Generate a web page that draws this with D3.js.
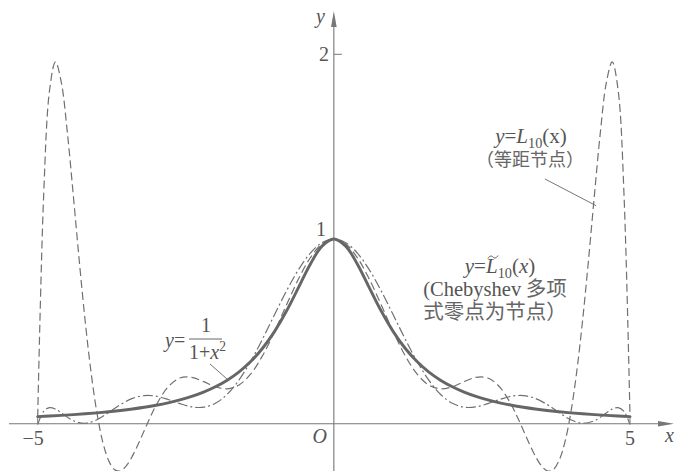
<!DOCTYPE html>
<html>
<head>
<meta charset="utf-8">
<script src="https://cdn.jsdelivr.net/npm/d3@7/dist/d3.min.js"></script>
<style>
  html, body { margin: 0; padding: 0; background: #fff; }
  svg { display: block; }
  text { fill: #4a4a4a; }
</style>
</head>
<body>
<svg id="chart" width="675" height="471"></svg>
<script>
// Runge function y = 1/(1+x^2) on [-5, 5]
const xRunge = [-5,-4.8,-4.6,-4.4,-4.2,-4,-3.8,-3.6,-3.4,-3.2,-3,-2.8,-2.6,-2.4,-2.2,-2,-1.8,-1.6,-1.4,-1.2,-1,-0.8,-0.6,-0.4,-0.2,
  0,0.2,0.4,0.6,0.8,1,1.2,1.4,1.6,1.8,2,2.2,2.4,2.6,2.8,3,3.2,3.4,3.6,3.8,4,4.2,4.4,4.6,4.8,5];
const yRunge = [0.0385,0.0416,0.0451,0.0491,0.0536,0.0588,0.0648,0.0716,0.0796,0.0890,0.1000,0.1131,0.1289,0.1479,0.1712,0.2000,0.2358,0.2809,0.3378,0.4098,0.5000,0.6098,0.7353,0.8621,0.9615,
  1.0000,0.9615,0.8621,0.7353,0.6098,0.5000,0.4098,0.3378,0.2809,0.2358,0.2000,0.1712,0.1479,0.1289,0.1131,0.1000,0.0890,0.0796,0.0716,0.0648,0.0588,0.0536,0.0491,0.0451,0.0416,0.0385];

// L10(x): interpolation on 11 equally spaced nodes
const xEqui = [-5,-4.9,-4.8,-4.7,-4.6,-4.5,-4.4,-4.3,-4.2,-4.1,-4,-3.9,-3.8,-3.7,-3.6,-3.5,-3.4,-3.3,-3.2,-3.1,-3,
  -2.8,-2.6,-2.4,-2.2,-2,-1.8,-1.6,-1.4,-1.2,-1,-0.8,-0.6,-0.4,-0.2,0,0.2,0.4,0.6,0.8,1,1.2,1.4,1.6,1.8,2,2.2,2.4,2.6,2.8,
  3,3.1,3.2,3.3,3.4,3.5,3.6,3.7,3.8,3.9,4,4.1,4.2,4.3,4.4,4.5,4.6,4.7,4.8,4.9,5];
const yEqui = [0.0385,1.2303,1.8044,1.9590,1.8458,1.5787,1.2402,0.8881,0.5604,0.2802,0.0588,-0.1007,-0.2013,-0.2496,-0.2546,-0.2262,-0.1743,-0.1083,-0.0363,0.0349,0.1000,
  0.1987,0.2472,0.2510,0.2278,0.2000,0.1888,0.2099,0.2710,0.3708,0.5000,0.6432,0.7817,0.8971,0.9733,1.0000,0.9733,0.8971,0.7817,0.6432,0.5000,0.3708,0.2710,0.2099,0.1888,0.2000,0.2278,0.2510,0.2472,0.1987,
  0.1000,0.0349,-0.0363,-0.1083,-0.1743,-0.2262,-0.2546,-0.2496,-0.2013,-0.1007,0.0588,0.2802,0.5604,0.8881,1.2402,1.5787,1.8458,1.9590,1.8044,1.2303,0.0385];

// L~10(x): interpolation on the zeros of the Chebyshev polynomial T11
const xCheb = [-5,-4.9,-4.8,-4.7,-4.6,-4.4,-4.2,-4,-3.8,-3.6,-3.4,-3.2,-3,-2.8,-2.6,-2.4,-2.2,-2,-1.8,-1.6,-1.4,-1.2,-1,-0.8,-0.6,-0.4,-0.2,
  0,0.2,0.4,0.6,0.8,1,1.2,1.4,1.6,1.8,2,2.2,2.4,2.6,2.8,3,3.2,3.4,3.6,3.8,4,4.2,4.4,4.6,4.7,4.8,4.9,5];
const yCheb = [-0.0053,0.0664,0.0871,0.0791,0.0583,0.0162,0.0024,0.0213,0.0608,0.1040,0.1371,0.1523,0.1488,0.1313,0.1087,0.0913,0.0893,0.1105,0.1596,0.2372,0.3400,0.4611,0.5910,0.7187,0.8327,0.9226,0.9802,
  1.0000,0.9802,0.9226,0.8327,0.7187,0.5910,0.4611,0.3400,0.2372,0.1596,0.1105,0.0893,0.0913,0.1087,0.1313,0.1488,0.1523,0.1371,0.1040,0.0608,0.0213,0.0024,0.0162,0.0583,0.0791,0.0871,0.0664,-0.0053];

const xTickValues = [-5, 5];
const xTickLabels = ["\u22125", "5"];
const yTickValues = [1, 2];
const yTickLabels = ["1", "2"];

const SERIF = "Liberation Serif";
const CJK = "Noto Sans CJK SC";
const INK = "#555";
const INK_CJK = "#666";

const svg = d3.select("#chart");
const x = d3.scaleLinear().domain([-5, 5]).range([37.7, 630]);
const y = d3.scaleLinear().domain([0, 2]).range([423.7, 54.3]);

// ---- axes ----
const axes = svg.append("g").attr("stroke", "#777").attr("fill", "none");
axes.append("line").attr("x1", 9).attr("x2", 662).attr("y1", y(0)).attr("y2", y(0)).attr("stroke-width", 1.1);
axes.append("line").attr("x1", x(0)).attr("x2", x(0)).attr("y1", 471).attr("y2", 22).attr("stroke-width", 1.1);
svg.append("path").attr("fill", "#777")
  .attr("d", `M${x(0)},11 L${x(0) - 2.8},27 L${x(0) + 2.8},27 Z`);
svg.append("path").attr("fill", "#777")
  .attr("d", `M674,${y(0)} L658,${y(0) - 2.8} L658,${y(0) + 2.8} Z`);

// x ticks (short marks above the axis) and labels
xTickValues.forEach((v, i) => {
  svg.append("line").attr("x1", x(v)).attr("x2", x(v)).attr("y1", y(0)).attr("y2", y(0) - 6)
    .attr("stroke", "#777").attr("stroke-width", 1);
  svg.append("text").attr("x", v < 0 ? x(v) + 6 : x(v)).attr("y", 445)
    .attr("text-anchor", v < 0 ? "end" : "middle")
    .attr("font-family", SERIF).attr("font-size", 20).style("fill", INK)
    .text(xTickLabels[i]);
});
// y ticks: a mark at 2; the label "1" sits beside the axis
yTickValues.forEach((v, i) => {
  if (v === 2) {
    svg.append("line").attr("x1", x(0)).attr("x2", x(0) + 8).attr("y1", y(v)).attr("y2", y(v))
      .attr("stroke", "#777").attr("stroke-width", 1);
  }
  svg.append("text").attr("x", v === 2 ? 329 : 326).attr("y", v === 2 ? y(v) + 7 : y(v) - 3)
    .attr("text-anchor", "end")
    .attr("font-family", SERIF).attr("font-size", 20).style("fill", INK)
    .text(yTickLabels[i]);
});
svg.append("text").attr("x", 327).attr("y", 443).attr("text-anchor", "end")
  .attr("font-family", SERIF).attr("font-style", "italic").attr("font-size", 20).style("fill", INK).text("O");
svg.append("text").attr("x", 665).attr("y", 442)
  .attr("font-family", SERIF).attr("font-style", "italic").attr("font-size", 20).style("fill", INK).text("x");
svg.append("text").attr("x", 316).attr("y", 23)
  .attr("font-family", SERIF).attr("font-style", "italic").attr("font-size", 20).style("fill", INK).text("y");

// ---- curves ----
const line = d3.line().curve(d3.curveCatmullRom.alpha(0.5)).x(d => x(d[0])).y(d => y(d[1]));
const zip = (xs, ys) => xs.map((v, i) => [v, ys[i]]);

svg.append("path").datum(zip(xEqui, yEqui)).attr("d", line)
  .attr("fill", "none").attr("stroke", "#707070").attr("stroke-width", 1.2)
  .attr("stroke-dasharray", "8,4");
svg.append("path").datum(zip(xCheb, yCheb)).attr("d", line)
  .attr("fill", "none").attr("stroke", "#707070").attr("stroke-width", 1.2)
  .attr("stroke-dasharray", "10,3,2,3");
svg.append("path").datum(zip(xRunge, yRunge)).attr("d", line)
  .attr("fill", "none").attr("stroke", "#666").attr("stroke-width", 2.9)
  .attr("stroke-linecap", "round");

// ---- labels ----
// runs: {t, it (italic), sub, sup, fam}
function richText(px, py, runs, size, anchor) {
  const t = svg.append("text").attr("x", px).attr("y", py)
    .attr("font-size", size).attr("text-anchor", anchor || "start").style("fill", INK);
  let shift = 0;
  runs.forEach(r => {
    const target = r.sub ? 5 : r.sup ? -8 : 0;
    const ts = t.append("tspan").text(r.t)
      .attr("font-family", r.fam || SERIF)
      .attr("font-style", r.it ? "italic" : "normal")
      .attr("dy", target - shift);
    if (r.fam === CJK) ts.style("fill", INK_CJK);
    if (r.sub || r.sup) ts.attr("font-size", size * 0.68);
    shift = target;
  });
  return t;
}

// y = L10(x)  (equally spaced nodes)
richText(531, 143, [{t: "y", it: true}, {t: "="}, {t: "L", it: true}, {t: "10", sub: true}, {t: "(x)"}], 21, "middle");
richText(530, 166, [{t: "（等距节点）", fam: CJK}], 18, "middle");
svg.append("line").attr("x1", 545).attr("y1", 179).attr("x2", x(4.43)).attr("y2", y(1.18))
  .attr("stroke", "#666").attr("stroke-width", 0.9);

// y = L~10(x)  (Chebyshev nodes)
const chebLabel = richText(500, 273, [{t: "y", it: true}, {t: "="}, {t: "L", it: true}, {t: "10", sub: true}, {t: "("}, {t: "x", it: true}, {t: ")"}], 21, "middle");
{
  const ext = chebLabel.node().getExtentOfChar(2);
  const cx = ext.x + ext.width * 0.6, cy = ext.y + 3;
  svg.append("path")
    .attr("d", `M${cx - 5},${cy + 1.5} C${cx - 3},${cy - 2} ${cx - 1},${cy - 1} ${cx},${cy} S${cx + 3},${cy + 2} ${cx + 5},${cy - 1.5}`)
    .attr("fill", "none").attr("stroke", INK).attr("stroke-width", 1);
}
richText(495, 296, [{t: "(Chebyshev"}, {t: " 多项", fam: CJK}], 20.5, "middle");
richText(495, 319, [{t: "式零点为节点）", fam: CJK}], 20.5, "middle");

// y = 1/(1+x^2)
richText(165, 347, [{t: "y", it: true}, {t: "="}], 20, "start");
richText(206, 332, [{t: "1"}], 20, "middle");
svg.append("line").attr("x1", 189).attr("x2", 222).attr("y1", 339).attr("y2", 339)
  .attr("stroke", INK).attr("stroke-width", 0.9);
richText(189, 359, [{t: "1+"}, {t: "x", it: true}, {t: "2", sup: true}], 20, "start");
svg.append("line").attr("x1", 210).attr("y1", 364).attr("x2", x(-1.79)).attr("y2", y(0.238))
  .attr("stroke", "#666").attr("stroke-width", 0.9);
</script>
</body>
</html>
